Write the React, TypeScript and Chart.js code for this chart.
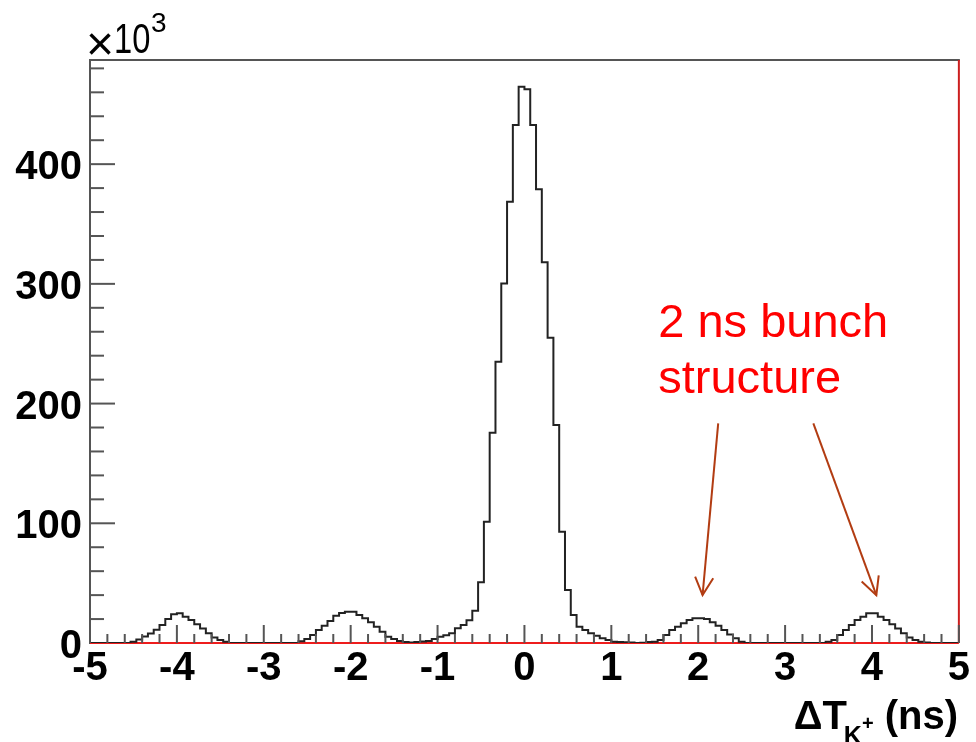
import React, { useEffect, useRef } from "react";
import { Chart, registerables } from "chart.js";
Chart.register(...registerables);

// Histogram range and binning (ns)
const X_MIN = -5;
const X_MAX = 5;
const N_BINS = 150;

// Bin contents in units of 10^3 entries, bins from -5 ns to +5 ns
const COUNTS_K = [
  0, 0, 0, 0, 0, 0, 0,
  1.1, 3, 5.5, 8, 11, 15, 20, 24, 24.8, 22, 19.2, 15.6, 12.2, 8.1, 4.5, 2.5, 1,
  0, 0, 0, 0, 0, 0, 0, 0, 0, 0, 0, 0,
  1.5, 3.3, 6.7, 10.9, 14.4, 18.4, 22.8, 25, 26.1, 26.1, 23.4, 20.6, 17.3, 13.6, 9.4, 5.3, 3.3, 1.7, 0.8,
  0.5, 0.8, 1.2, 1.7, 3.3, 5.3, 6.5, 8.1, 12.3, 15, 19, 27, 50.7, 101.3, 175.6, 234.9, 300.4, 368.5, 432.6, 464.6,
  462.6, 432.6, 379, 318, 255, 182, 93, 44.3, 23.4, 13.6, 10.9, 8.1, 6.1, 3.9, 2.5, 1.1, 0.8, 0.6, 0.4, 0, 0.3, 0.8, 1.1,
  2.5, 6.7, 10.9, 13.6, 16.4, 19.2, 20.6, 20.6, 20, 17.3, 14.4, 10.9, 7.2, 3.9, 1.1,
  0, 0, 0, 0, 0, 0, 0, 0, 0, 0, 0, 0, 0, 0,
  1.1, 2.5, 6.7, 10.9, 15, 19.2, 22, 24.8, 24.8, 22, 19.2, 15.6, 12.2, 8.1, 4.5, 2.5, 1.1, 0.5,
  0, 0, 0, 0, 0,
];

const X_TICKS = [-5, -4, -3, -2, -1, 0, 1, 2, 3, 4, 5];
const X_MINOR_PER_MAJOR = 5;
const Y_TICKS = [0, 100, 200, 300, 400];
const Y_MINOR_STEP = 20;
const Y_MAX = 487;

const AXIS_TITLE_MAIN = "\u0394T";
const AXIS_TITLE_SUB = "K";
const AXIS_TITLE_SUP = "+";
const AXIS_TITLE_UNIT = " (ns)";
const Y_MULT_SIGN = "\u00d7";
const Y_MULT_BASE = "10";
const Y_MULT_EXP = "3";

const NOTE_LINES = ["2 ns bunch", "structure"];
const NOTE_X = 1.54;
const NOTE_Y = [255.8, 209];
const ARROWS = [
  { from: [2.23, 183.5], to: [2.05, 40] },
  { from: [3.325, 183.5], to: [4.05, 40] },
];

const FONT = "'Liberation Sans', Arial, Helvetica, sans-serif";

const decor = {
  id: "rootDecor",
  beforeDatasetsDraw(chart: any) {
    const { ctx, chartArea, scales } = chart;
    const y0 = scales.y.getPixelForValue(0);
    ctx.save();
    ctx.strokeStyle = "#ee1c1c";
    ctx.lineWidth = 2;
    ctx.beginPath();
    ctx.moveTo(chartArea.left, y0);
    ctx.lineTo(chartArea.right, y0);
    ctx.stroke();
    ctx.restore();
  },
  afterDatasetsDraw(chart: any) {
    const { ctx, chartArea, scales } = chart;
    const xs = scales.x;
    const ys = scales.y;
    const { left, right, top, bottom } = chartArea;
    ctx.save();
    // frame: top gray, right red
    ctx.lineWidth = 2;
    ctx.strokeStyle = "#555";
    ctx.beginPath();
    ctx.moveTo(left, top);
    ctx.lineTo(right + 1, top);
    ctx.stroke();
    ctx.strokeStyle = "#cc1f1f";
    ctx.beginPath();
    ctx.moveTo(right, top);
    ctx.lineTo(right, bottom);
    ctx.stroke();

    // x ticks (inward)
    ctx.strokeStyle = "#555";
    ctx.lineWidth = 2;
    for (let i = 0; i < X_TICKS.length; i++) {
      const v = X_TICKS[i];
      const px = xs.getPixelForValue(v);
      ctx.beginPath();
      ctx.moveTo(px, bottom);
      ctx.lineTo(px, bottom - 18);
      ctx.stroke();
      if (i < X_TICKS.length - 1) {
        const step = (X_TICKS[i + 1] - v) / X_MINOR_PER_MAJOR;
        for (let k = 1; k < X_MINOR_PER_MAJOR; k++) {
          const mx = xs.getPixelForValue(v + k * step);
          ctx.beginPath();
          ctx.moveTo(mx, bottom);
          ctx.lineTo(mx, bottom - 9);
          ctx.stroke();
        }
      }
    }
    // y ticks (inward)
    for (let v = Y_MINOR_STEP; v <= Y_MAX; v += Y_MINOR_STEP) {
      const py = ys.getPixelForValue(v);
      const major = Y_TICKS.includes(v);
      ctx.beginPath();
      ctx.moveTo(left, py);
      ctx.lineTo(left + (major ? 25 : 14), py);
      ctx.stroke();
    }

    // annotation
    ctx.fillStyle = "#ff0000";
    ctx.font = `47px ${FONT}`;
    ctx.textAlign = "left";
    ctx.textBaseline = "alphabetic";
    NOTE_LINES.forEach((t, i) => {
      ctx.fillText(t, xs.getPixelForValue(NOTE_X), ys.getPixelForValue(NOTE_Y[i]));
    });
    ctx.strokeStyle = "#b23c12";
    ctx.lineWidth = 2;
    for (const a of ARROWS) {
      const x1 = xs.getPixelForValue(a.from[0]);
      const y1 = ys.getPixelForValue(a.from[1]);
      const x2 = xs.getPixelForValue(a.to[0]);
      const y2 = ys.getPixelForValue(a.to[1]);
      ctx.beginPath();
      ctx.moveTo(x1, y1);
      ctx.lineTo(x2, y2);
      ctx.stroke();
      const ang = Math.atan2(y1 - y2, x1 - x2);
      const L = 20;
      const th = (27 * Math.PI) / 180;
      ctx.beginPath();
      ctx.moveTo(x2 + L * Math.cos(ang + th), y2 + L * Math.sin(ang + th));
      ctx.lineTo(x2, y2);
      ctx.lineTo(x2 + L * Math.cos(ang - th), y2 + L * Math.sin(ang - th));
      ctx.stroke();
    }

    // x axis title (right aligned)
    ctx.fillStyle = "#000";
    const F = 40;
    const base = 729;
    const fMain = `bold ${F}px ${FONT}`;
    const fSub = `bold ${Math.round(F * 0.62)}px ${FONT}`;
    const fSup = `bold ${Math.round(F * 0.5)}px ${FONT}`;
    ctx.font = fMain;
    const wMain = ctx.measureText(AXIS_TITLE_MAIN).width;
    const wUnit = ctx.measureText(AXIS_TITLE_UNIT).width;
    ctx.font = fSub;
    const wSub = ctx.measureText(AXIS_TITLE_SUB).width;
    ctx.font = fSup;
    const wSup = ctx.measureText(AXIS_TITLE_SUP).width;
    let x = 958 - (wMain + wSub + wSup + wUnit) + 3;
    ctx.textAlign = "left";
    ctx.font = fMain;
    ctx.fillText(AXIS_TITLE_MAIN, x, base);
    x += wMain - 3;
    ctx.font = fSub;
    ctx.fillText(AXIS_TITLE_SUB, x, base + 15);
    x += wSub;
    ctx.font = fSup;
    ctx.fillText(AXIS_TITLE_SUP, x, base + 1);
    x += wSup;
    ctx.font = fMain;
    ctx.fillText(AXIS_TITLE_UNIT, x, base);

    // x10^3
    ctx.font = `48px ${FONT}`;
    ctx.fillText(Y_MULT_SIGN, 86, 60);
    ctx.save();
    ctx.font = `43px ${FONT}`;
    ctx.translate(114, 53);
    ctx.scale(0.76, 1);
    ctx.fillText(Y_MULT_BASE, 0, 0);
    ctx.restore();
    ctx.font = `28px ${FONT}`;
    ctx.fillText(Y_MULT_EXP, 151, 32);

    ctx.restore();
  },
};

export default function App() {
  const ref = useRef<HTMLCanvasElement | null>(null);
  useEffect(() => {
    if (!ref.current) return;
    const w = (X_MAX - X_MIN) / N_BINS;
    const points = COUNTS_K.map((c, i) => ({ x: X_MIN + i * w, y: c }));
    points.push({ x: X_MAX, y: COUNTS_K[COUNTS_K.length - 1] });
    const tickFont = { family: FONT, size: 40, weight: "bold" as const, lineHeight: 1 };
    const chart = new Chart(ref.current, {
      type: "line",
      data: {
        datasets: [
          {
            data: points,
            borderColor: "#222",
            borderWidth: 2,
            pointRadius: 0,
            stepped: "before",
            fill: false,
            tension: 0,
          },
        ],
      },
      options: {
        animation: false,
        responsive: false,
        devicePixelRatio: 1,
        layout: { padding: { top: 60, right: 16, left: 0, bottom: 0 } },
        plugins: { legend: { display: false }, tooltip: { enabled: false } },
        scales: {
          x: {
            type: "linear",
            min: X_MIN,
            max: X_MAX,
            afterBuildTicks: (s: any) => {
              s.ticks = X_TICKS.map((v) => ({ value: v }));
            },
            afterFit: (s: any) => {
              s.height = 99;
            },
            grid: { display: false, drawTicks: false },
            border: { display: false },
            ticks: {
              autoSkip: false,
              maxRotation: 0,
              padding: 6,
              color: "#000",
              font: tickFont,
              callback: (v: any) => String(v),
            },
          },
          y: {
            type: "linear",
            min: 0,
            max: Y_MAX,
            afterBuildTicks: (s: any) => {
              s.ticks = Y_TICKS.map((v) => ({ value: v }));
            },
            afterFit: (s: any) => {
              s.width = 90;
            },
            grid: { display: false, drawTicks: false },
            border: { display: true, color: "#555", width: 2 },
            ticks: {
              padding: 8,
              labelOffset: 4,
              color: "#000",
              font: tickFont,
              callback: (v: any) => String(v),
            },
          },
        },
      },
      plugins: [decor],
    });
    return () => chart.destroy();
  }, []);
  return (
    <div style={{ position: "absolute", left: 0, top: 0, width: 976, height: 742, background: "#fff" }}>
      <canvas ref={ref} width={976} height={742} style={{ width: 976, height: 742 }} />
    </div>
  );
}
